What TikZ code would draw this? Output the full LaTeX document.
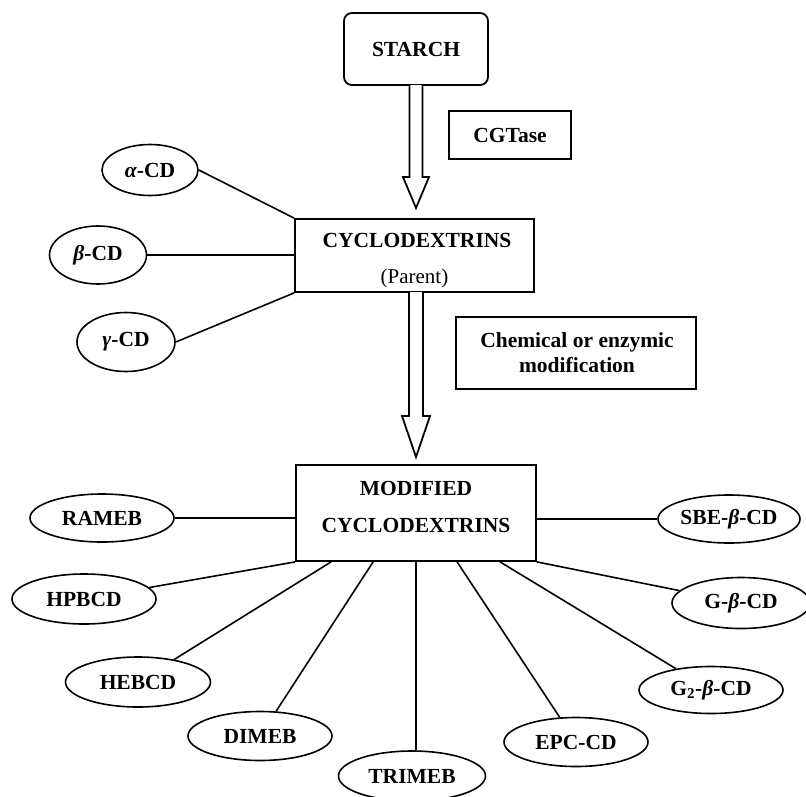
\documentclass[tikz,border=0pt]{standalone}
\usepackage{fontspec}
\setmainfont{Liberation Serif}
\usetikzlibrary{shapes.geometric,calc}
\tikzset{
  every node/.style={font=\fontsize{21.5}{26}\selectfont\bfseries},
  box/.style={draw, line width=1.8pt, inner sep=0pt},
  oval/.style={draw, ellipse, line width=1.6pt, inner sep=0pt},
  link/.style={line width=1.6pt},
  hollow/.style={draw, line width=1.8pt, fill=white, line join=miter},
}
\begin{document}
\begin{tikzpicture}[x=1pt,y=-1pt]
\useasboundingbox (0,0) rectangle (806,796);
% boxes
\node[box, rounded corners=8pt, minimum width=144pt, minimum height=72pt] (starch) at (416,49) {STARCH};
\node[box, minimum width=122pt, minimum height=48pt] (cgt) at (510,135) {CGTase};
\node[box, minimum width=239pt, minimum height=73pt] (cd) at (414.5,255.5) {};
\node[anchor=base] (cdt) at (417,247) {CYCLODEXTRINS};
\node[anchor=base, font=\fontsize{21}{25}\selectfont\mdseries] (par) at (414.5,283) {(Parent)};
\node[box, minimum width=240pt, minimum height=72pt] (chem) at (576,353) {};
\node[anchor=base] (chem1) at (577,347) {Chemical or enzymic};
\node[anchor=base] (chem2) at (577,372) {modification};
\node[box, minimum width=240pt, minimum height=96pt] (mod) at (416,513) {};
\node[anchor=base] (mod1) at (416,495) {MODIFIED};
\node[anchor=base] (mod2) at (416,532) {CYCLODEXTRINS};
% hollow arrows
\draw[hollow] (409.5,85) -- (409.5,177) -- (403,177) -- (416,208) -- (429,177) -- (422.5,177) -- (422.5,85);
\draw[hollow] (409,292) -- (409,416) -- (402,416) -- (416,457) -- (430,416) -- (423,416) -- (423,292);
% parent ellipses
\node[oval, minimum width=96pt, minimum height=51pt] (a) at (150,170) {\textit{α}-CD};
\node[oval, minimum width=97pt, minimum height=58pt] (b) at (98,255) {\textit{β}-CD};
\node[oval, minimum width=98pt, minimum height=59pt] (g) at (126,342) {\textit{γ}-CD};
\draw[link] (a.east) -- (cd.north west);
\draw[link] (b.east) -- (b.east -| cd.west);
\draw[link] (g.east) -- (cd.south west);
% modified ellipses
\node[oval, minimum width=144pt, minimum height=48pt] (ram) at (102,518) {RAMEB};
\node[oval, minimum width=144pt, minimum height=50pt] (hp) at (84,599) {HPBCD};
\node[oval, minimum width=145pt, minimum height=50pt] (he) at (138,682) {HEBCD};
\node[oval, minimum width=144pt, minimum height=49pt] (dim) at (260,736) {DIMEB};
\node[oval, minimum width=147pt, minimum height=50pt] (tri) at (412,776) {TRIMEB};
\node[oval, minimum width=144pt, minimum height=49pt] (epc) at (576,742) {EPC-CD};
\node[oval, minimum width=144pt, minimum height=47pt] (g2) at (711,690) {G\textsubscript{2}-\textit{β}-CD};
\node[oval, minimum width=138pt, minimum height=51pt] (gb) at (741,603) {G-\textit{β}-CD};
\node[oval, minimum width=142pt, minimum height=48pt] (sbe) at (729,519) {SBE-\textit{β}-CD};
% attachment points on the modified box
\coordinate (s2) at ($(mod.south west)+(36,0)$);
\coordinate (s3) at ($(mod.south west)+(78,0)$);
\coordinate (s5) at ($(mod.south west)+(162,0)$);
\coordinate (s6) at ($(mod.south west)+(205,0)$);
\draw[link] (ram.east) -- (ram.east -| mod.west);
\draw[link] (mod.east |- sbe.west) -- (sbe.west);
\draw[link] (hp) -- (mod.south west);
\draw[link] (he) -- (s2);
\draw[link] (dim) -- (s3);
\draw[link] (mod.south) -- (mod.south |- tri.north);
\draw[link] (epc) -- (s5);
\draw[link] (g2) -- (s6);
\draw[link] (gb) -- (mod.south east);
\end{tikzpicture}
\end{document}
